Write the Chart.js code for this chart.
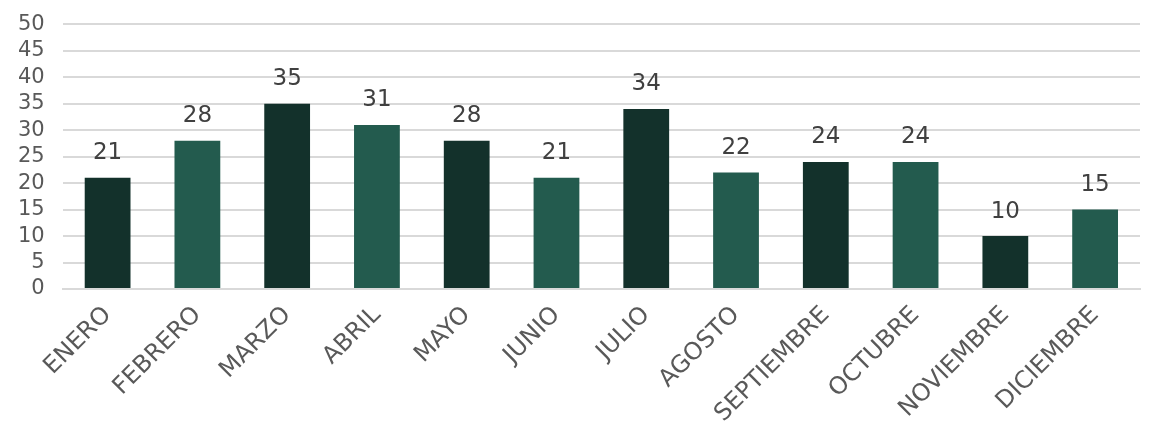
<!DOCTYPE html>
<html>
<head>
<meta charset="utf-8">
<script src="https://cdn.jsdelivr.net/npm/chart.js@4"></script>
<style>
  html, body { margin: 0; padding: 0; background: #fff; }
  #wrap { width: 1152px; height: 432px; }
</style>
</head>
<body>
<div id="wrap"><canvas id="monthly-chart"></canvas></div>
<script>
var months = ["ENERO", "FEBRERO", "MARZO", "ABRIL", "MAYO", "JUNIO", "JULIO", "AGOSTO", "SEPTIEMBRE", "OCTUBRE", "NOVIEMBRE", "DICIEMBRE"];
var values = [21, 28, 35, 31, 28, 21, 34, 22, 24, 24, 10, 15];
var barColors = ["#13312b", "#235b4e"];

// value labels above each bar
var valueLabels = {
    id: 'valueLabels',
    afterDatasetsDraw: function(chart) {
        var c = chart.ctx;
        var meta = chart.getDatasetMeta(0);
        c.save();
        c.font = '23px "DejaVu Sans", sans-serif';
        c.fillStyle = '#404040';
        c.textAlign = 'center';
        c.textBaseline = 'bottom';
        meta.data.forEach(function(bar, i) {
            c.fillText(values[i], bar.x, bar.y - 13);
        });
        c.restore();
    }
};

var ctx = document.getElementById('monthly-chart').getContext('2d');
var chart = new Chart(ctx, {
    type: 'bar',
    data: {
        labels: months,
        datasets: [{
            data: values,
            backgroundColor: months.map(function(m, i) { return barColors[i % 2]; }),
            barPercentage: 0.51,
            categoryPercentage: 1.0
        }]
    },
    options: {
        responsive: true,
        maintainAspectRatio: false,
        animation: false,
        layout: { padding: { left: 0, right: 12, top: 0, bottom: 0 } },
        plugins: {
            legend: { display: false },
            tooltip: { enabled: false }
        },
        scales: {
            x: {
                grid: { display: false },
                border: { color: '#d9d9d9', width: 2 },
                ticks: {
                    color: '#595959',
                    font: { family: '"DejaVu Sans", sans-serif', size: 24 },
                    minRotation: 45,
                    maxRotation: 45,
                    padding: 4
                }
            },
            y: {
                min: 0,
                max: 50,
                grid: { color: '#d9d9d9', lineWidth: 2, drawTicks: false },
                border: { display: false },
                ticks: {
                    stepSize: 5,
                    autoSkip: false,
                    color: '#595959',
                    font: { family: '"DejaVu Sans", sans-serif', size: 21, lineHeight: 0.6 },
                    padding: 18
                }
            }
        }
    },
    plugins: [valueLabels]
});
</script>
</body>
</html>
